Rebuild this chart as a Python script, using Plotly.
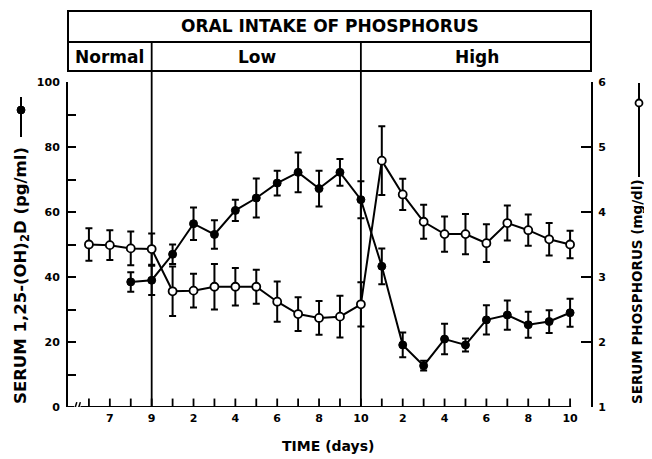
import plotly.graph_objects as go

# ---------------- data ----------------
# phase offsets place consecutive phases on one continuous time scale
NORMAL_OFFSET = 0
LOW_OFFSET = 9
HIGH_OFFSET = 19

# Serum 1,25-(OH)2D (pg/ml)  -- filled circles, left axis
d_normal_days = [8, 9]
d_normal = [38.5, 39.0]
d_normal_err = [3.0, 4.5]
low_days = [1, 2, 3, 4, 5, 6, 7, 8, 9, 10]
d_low = [47.0, 56.4, 53.1, 60.5, 64.3, 68.9, 72.2, 67.2, 72.2, 63.8]
d_low_err = [3.0, 5.0, 4.4, 3.3, 6.0, 3.8, 6.1, 5.5, 4.1, 5.7]
high_days = [1, 2, 3, 4, 5, 6, 7, 8, 9, 10]
d_high = [43.3, 19.1, 12.7, 20.9, 19.1, 26.8, 28.3, 25.3, 26.3, 29.0]
d_high_err = [5.5, 3.8, 1.5, 4.7, 2.0, 4.5, 4.5, 4.0, 3.5, 4.3]

# Serum phosphorus (mg/dl) -- open circles, right axis
p_normal_days = [6, 7, 8, 9]
p_normal = [3.50, 3.49, 3.44, 3.43]
p_normal_err = [0.25, 0.23, 0.26, 0.24]
p_low = [2.78, 2.79, 2.85, 2.85, 2.85, 2.62, 2.43, 2.37, 2.39, 2.58]
p_low_err = [0.38, 0.26, 0.35, 0.29, 0.26, 0.31, 0.26, 0.26, 0.32, 0.34]
p_high = [4.79, 4.27, 3.85, 3.66, 3.66, 3.52, 3.83, 3.72, 3.58, 3.50]
p_high_err = [0.53, 0.24, 0.26, 0.27, 0.31, 0.29, 0.27, 0.24, 0.25, 0.21]

# tick labels (days within each phase)
normal_tick_days = [7, 9]
low_tick_days = [2, 4, 6, 8, 10]
high_tick_days = [2, 4, 6, 8, 10]
left_ticks = [0, 20, 40, 60, 80, 100]
right_ticks = [1, 2, 3, 4, 5, 6]

# ---------------- build ----------------
def pos(days, off):
    return [d + off for d in days]

d_x = pos(d_normal_days, NORMAL_OFFSET) + pos(low_days, LOW_OFFSET) + pos(high_days, HIGH_OFFSET)
d_y = d_normal + d_low + d_high
d_e = d_normal_err + d_low_err + d_high_err
p_x = pos(p_normal_days, NORMAL_OFFSET) + pos(low_days, LOW_OFFSET) + pos(high_days, HIGH_OFFSET)
p_y = p_normal + p_low + p_high
p_e = p_normal_err + p_low_err + p_high_err

tick_pos = pos(normal_tick_days, NORMAL_OFFSET) + pos(low_tick_days, LOW_OFFSET) + pos(high_tick_days, HIGH_OFFSET)
tick_txt = [str(d) for d in normal_tick_days + low_tick_days + high_tick_days]
all_day_pos = sorted(set(p_x))  # every observed day gets a tick mark

FONT = "DejaVu Sans"
BLACK = "black"

fig = go.Figure()
fig.add_trace(go.Scatter(
    x=d_x, y=d_y, mode="lines+markers", yaxis="y",
    line=dict(color=BLACK, width=2),
    marker=dict(size=8, color=BLACK, line=dict(color=BLACK, width=1)),
    error_y=dict(type="data", array=d_e, color=BLACK, thickness=2, width=3.5),
    showlegend=False, cliponaxis=False))
fig.add_trace(go.Scatter(
    x=p_x, y=p_y, mode="lines+markers", yaxis="y2",
    line=dict(color=BLACK, width=2),
    marker=dict(size=8, color="white", line=dict(color=BLACK, width=1.8)),
    error_y=dict(type="data", array=p_e, color=BLACK, thickness=2, width=3.5),
    showlegend=False, cliponaxis=False))

# page body has an 8px margin: figure is placed at (8, 8) in the window
OFF = 8
W, H = 652 - OFF, 459 - OFF
ML, MR, MT, MB = 68 - OFF, 61, 82 - OFF, 52
PW, PH = W - ML - MR, H - MT - MB

def px2x(px):  # reference window px -> paper
    return (px - OFF - ML) / PW

def py2y(py):
    return (H - MB - (py - OFF)) / PH

shapes = []
line_k = dict(color=BLACK, width=2)
# x axis with break
shapes.append(dict(type="line", xref="x", yref="y", x0=5, x1=5.3, y0=0, y1=0, line=line_k))
shapes.append(dict(type="line", xref="x", yref="y", x0=5.28, x1=5.42, y0=-1.5, y1=1.5, line=dict(color=BLACK, width=1.5)))
shapes.append(dict(type="line", xref="x", yref="y", x0=5.45, x1=5.59, y0=-1.5, y1=1.5, line=dict(color=BLACK, width=1.5)))
shapes.append(dict(type="line", xref="x", yref="y", x0=5.6, x1=29.05, y0=0, y1=0, line=line_k))
# x tick marks (inside, upward), one per day
for t in all_day_pos:
    shapes.append(dict(type="line", xref="x", yref="y", x0=t, x1=t, y0=0, y1=2.6,
                       line=dict(color=BLACK, width=1.8)))

box_top = py2y(11)
box_mid = py2y(42)
box_bot = py2y(71)
# header box
shapes.append(dict(type="rect", xref="paper", yref="paper", x0=0, x1=1, y0=box_bot, y1=box_top, line=line_k))
shapes.append(dict(type="line", xref="paper", yref="paper", x0=0, x1=1, y0=box_mid, y1=box_mid, line=line_k))
# phase dividers (at end of normal and end of low phase)
for xv in [9 + NORMAL_OFFSET, 10 + LOW_OFFSET]:
    shapes.append(dict(type="line", xref="x", yref="paper", x0=xv, x1=xv, y0=0, y1=box_mid,
                       line=dict(color=BLACK, width=1.8), layer="below"))

# legend symbols next to axis titles
lx = px2x(21)
shapes.append(dict(type="line", xref="paper", yref="paper", x0=lx, x1=lx, y0=py2y(137), y1=py2y(97), line=line_k))
shapes.append(dict(type="circle", xref="paper", yref="paper", xsizemode="pixel", ysizemode="pixel",
                   xanchor=lx, yanchor=py2y(110), x0=-4, x1=4, y0=-4, y1=4,
                   fillcolor=BLACK, line=dict(color=BLACK, width=1)))
rx = px2x(639)
shapes.append(dict(type="line", xref="paper", yref="paper", x0=rx, x1=rx, y0=py2y(177), y1=py2y(83), line=line_k))
shapes.append(dict(type="circle", xref="paper", yref="paper", xsizemode="pixel", ysizemode="pixel",
                   xanchor=rx, yanchor=py2y(103), x0=-3.5, x1=3.5, y0=-3.5, y1=3.5,
                   fillcolor="white", line=dict(color=BLACK, width=1.8)))

def ann(text, px, py, size, angle=0):
    return dict(text=text, xref="paper", yref="paper", x=px2x(px), y=py2y(py),
                xanchor="center", yanchor="middle", showarrow=False, textangle=angle,
                font=dict(family=FONT, size=size, color=BLACK, weight="bold"))

annotations = [
    ann("ORAL INTAKE OF PHOSPHORUS", 330, 26, 17),
    ann("Normal", 109, 57, 17),
    ann("Low", 257, 57, 17),
    ann("High", 477, 57, 17),
    ann("TIME (days)", 328, 446, 14),
    ann("SERUM 1,25-(OH)<sub>2</sub>D (pg/ml)", 21, 276, 16.5, -90),
    ann("SERUM PHOSPHORUS (mg/dl)", 637, 292, 13.5, -90),
]

tickfont = dict(family=FONT, size=11, color=BLACK, weight="bold")
fig.update_layout(
    width=W, height=H, margin=dict(l=ML, r=MR, t=MT, b=MB),
    paper_bgcolor="white", plot_bgcolor="white",
    xaxis=dict(range=[5, 30], showline=False, showgrid=False, zeroline=False,
               tickmode="array", tickvals=tick_pos, ticktext=tick_txt,
               ticks="", tickfont=tickfont, ticklabelstandoff=3),
    yaxis=dict(range=[0, 100], showline=True, linewidth=2, linecolor=BLACK,
               showgrid=False, zeroline=False, tickmode="array", tickvals=left_ticks,
               ticks="inside", ticklen=8, tickwidth=1.5, tickcolor=BLACK,
               minor=dict(ticks="inside", dtick=10, ticklen=8, tickwidth=1.5, tickcolor=BLACK),
               tickfont=tickfont, ticklabelstandoff=4),
    yaxis2=dict(range=[1, 6], overlaying="y", side="right", showline=True, linewidth=2,
                linecolor=BLACK, showgrid=False, zeroline=False, tickmode="array",
                tickvals=right_ticks, ticks="inside", ticklen=10, tickwidth=1.5,
                tickcolor=BLACK, tickfont=tickfont, ticklabelstandoff=3),
    shapes=shapes, annotations=annotations, showlegend=False,
)

fig.write_html("out.html")
